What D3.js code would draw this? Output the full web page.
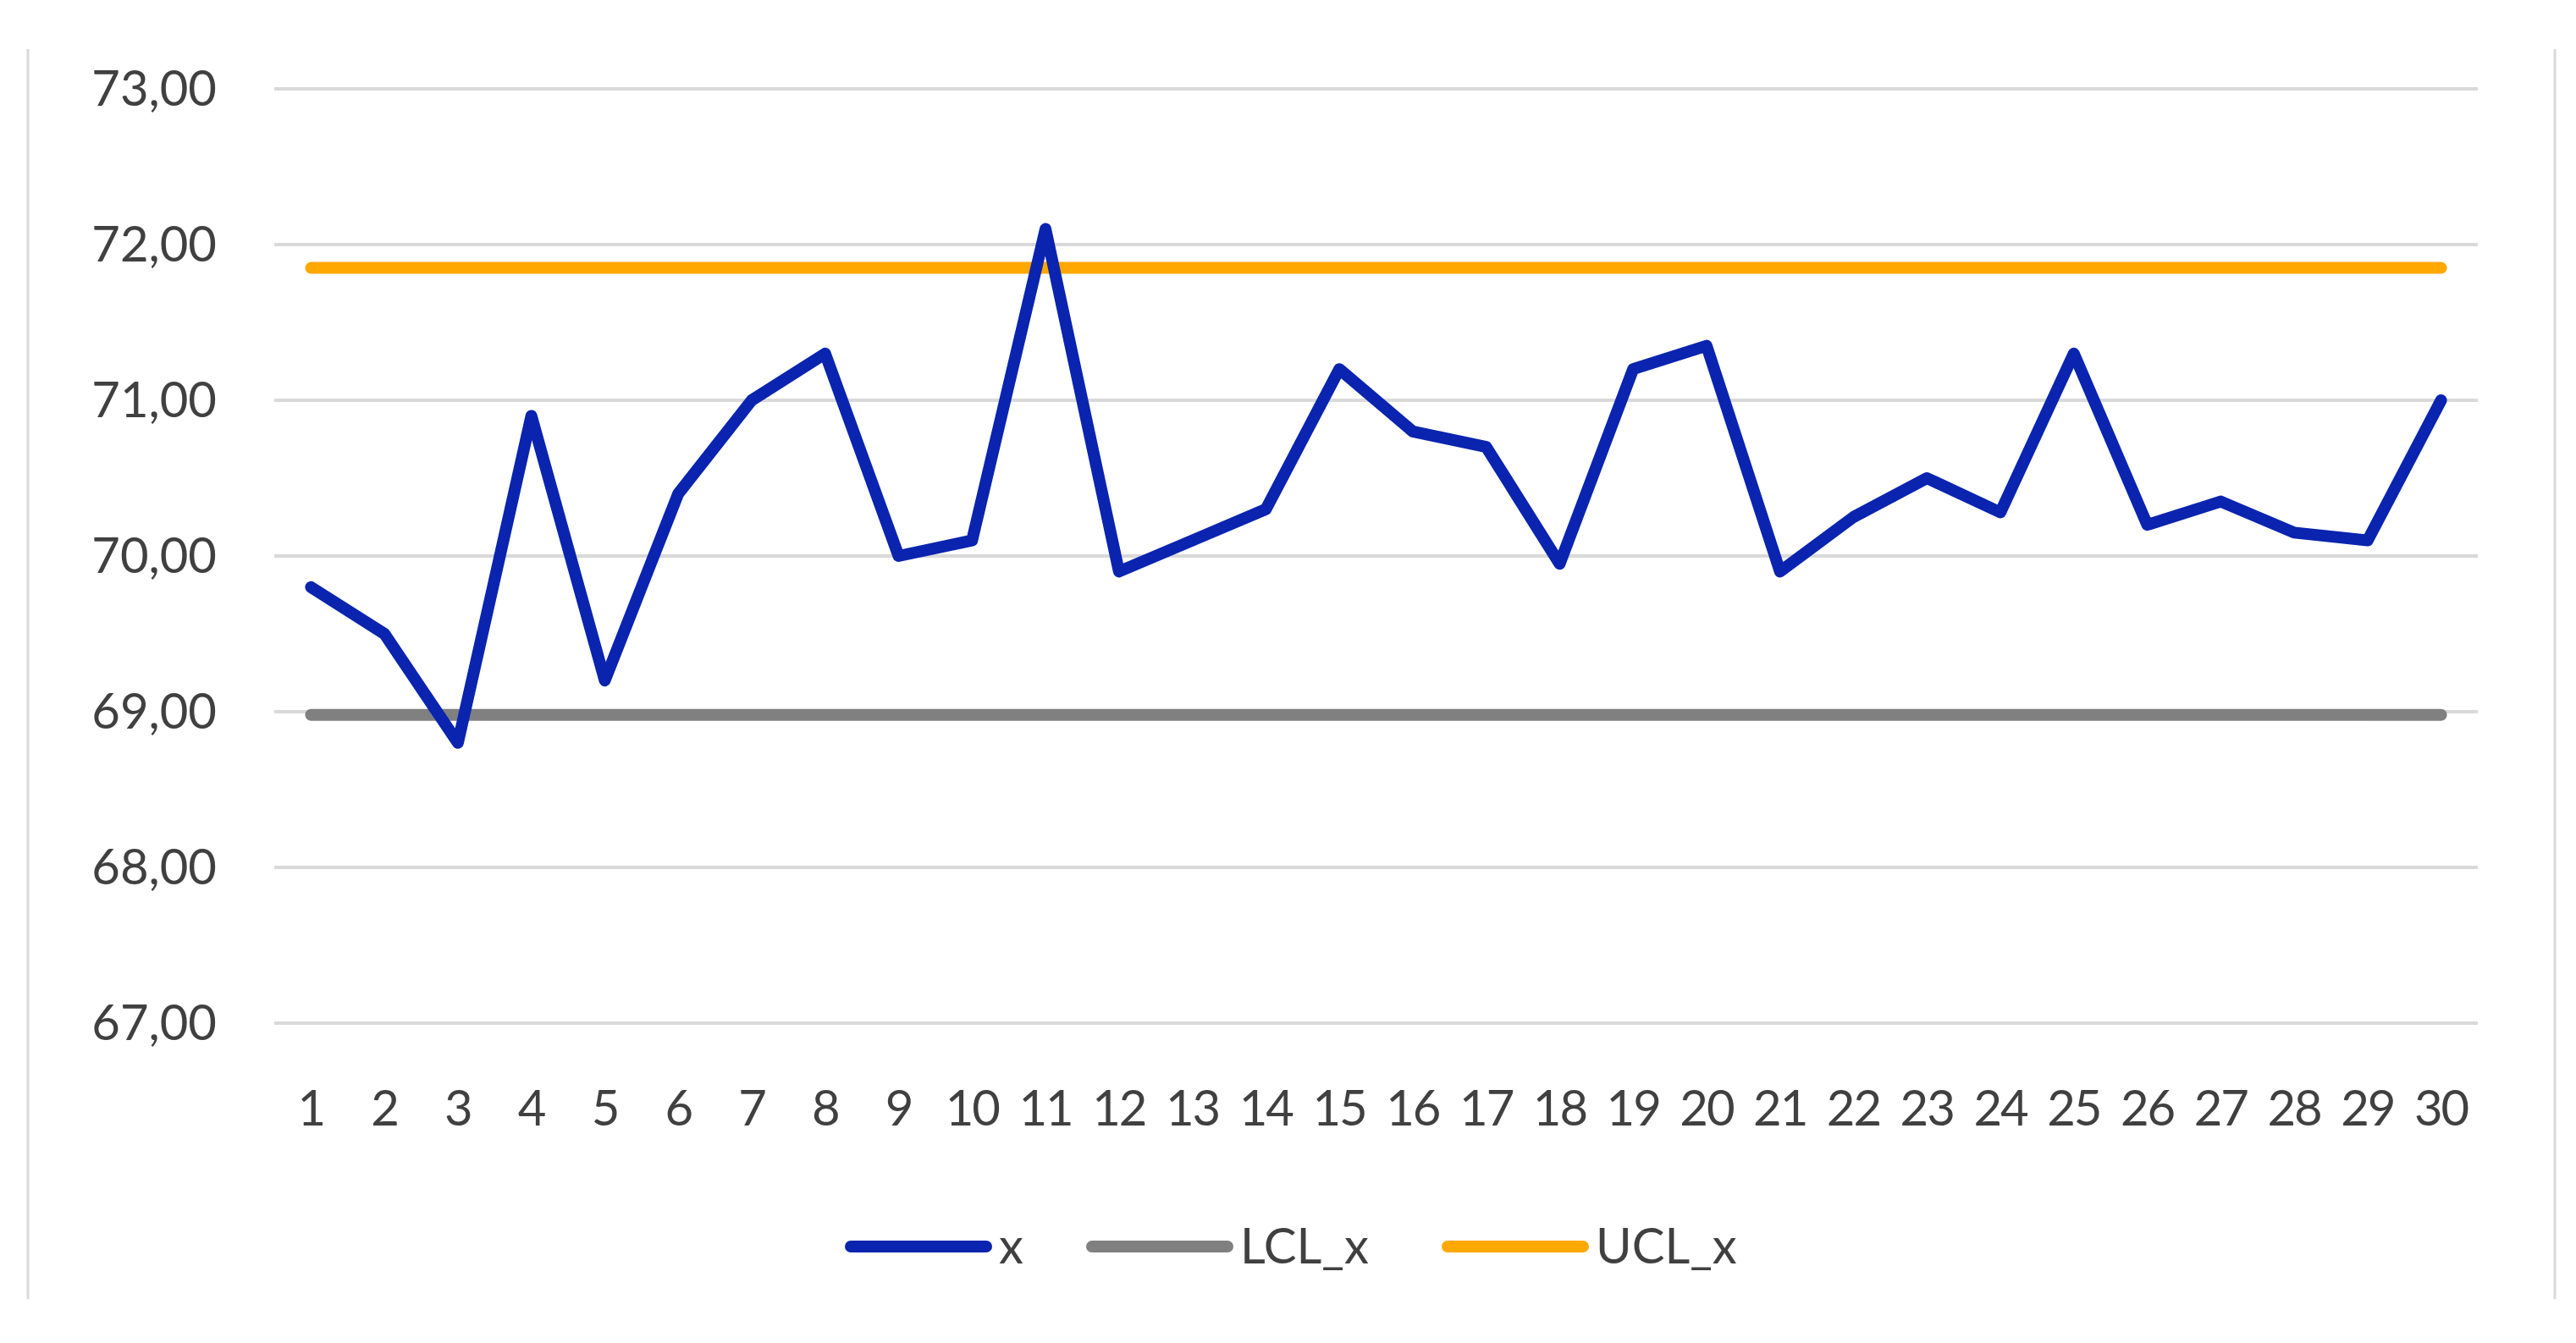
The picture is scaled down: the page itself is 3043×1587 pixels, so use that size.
<!DOCTYPE html>
<html><head><meta charset="utf-8">
<script src="https://cdn.jsdelivr.net/npm/d3@7"></script>
<style>body{margin:0;background:#fff}svg{display:block}text{font-family:Lato,"Open Sans",sans-serif;fill:#404040}</style>
</head><body><div id="chart"></div>
<script>
// data
var samples = d3.range(1, 31);
var xValues = [69.8, 69.5, 68.8, 70.9, 69.2, 70.4, 71.0, 71.3, 70.0, 70.1,
               72.1, 69.9, 70.1, 70.3, 71.2, 70.8, 70.7, 69.95, 71.2, 71.35,
               69.9, 70.25, 70.5, 70.28, 71.3, 70.2, 70.35, 70.15, 70.1, 71.0];
var lclValue = 68.98;
var uclValue = 71.85;
var yTicks = [67, 68, 69, 70, 71, 72, 73];
var seriesNames = ["x", "LCL_x", "UCL_x"];
var seriesColors = ["#0a24b0", "#808080", "#ffa800"];

var W = 3043, H = 1587;
var margin = {top: 105, right: 116, bottom: 378, left: 324};
var width = W - margin.left - margin.right, height = H - margin.top - margin.bottom;

var svg = d3.select("#chart").append("svg").attr("width", W).attr("height", H);

// frame lines at edges
svg.append("line").attr("x1", 33).attr("x2", 33).attr("y1", 58).attr("y2", 1535).attr("stroke", "#d9d9d9").attr("stroke-width", 3);
svg.append("line").attr("x1", 3018).attr("x2", 3018).attr("y1", 58).attr("y2", 1535).attr("stroke", "#d9d9d9").attr("stroke-width", 3);

var g = svg.append("g").attr("transform", "translate(" + margin.left + "," + margin.top + ")");

var xScale = d3.scalePoint().domain(samples).range([0, width]).padding(0.5);
var yScale = d3.scaleLinear().domain([67, 73]).range([height, 0]);

// grid
g.selectAll(".grid").data(yTicks).enter().append("line")
  .attr("x1", 0).attr("x2", width)
  .attr("y1", function(d) { return yScale(d); }).attr("y2", function(d) { return yScale(d); })
  .attr("stroke", "#d9d9d9").attr("stroke-width", 4);

// y labels
g.selectAll(".ylab").data(yTicks).enter().append("text")
  .attr("x", -68).attr("y", function(d) { return yScale(d); }).attr("dy", "0.35em")
  .attr("text-anchor", "end").attr("font-size", 58)
  .text(function(d) { return d.toFixed(2).replace(".", ","); });

// x labels
g.selectAll(".xlab").data(samples).enter().append("text")
  .attr("x", function(d) { return xScale(d); }).attr("y", height + 101).attr("dy", "0.35em")
  .attr("text-anchor", "middle").attr("font-size", 58).attr("letter-spacing", -2)
  .text(function(d) { return d; });

var line = d3.line().x(function(d) { return xScale(d[0]); }).y(function(d) { return yScale(d[1]); });
var lclData = samples.map(function(s) { return [s, lclValue]; });
var uclData = samples.map(function(s) { return [s, uclValue]; });
var xData = samples.map(function(s, i) { return [s, xValues[i]]; });

[lclData, uclData, xData].forEach(function(d, i) {
  var c = [seriesColors[1], seriesColors[2], seriesColors[0]][i];
  g.append("path").datum(d).attr("d", line).attr("fill", "none")
    .attr("stroke", c).attr("stroke-width", 14).attr("stroke-linejoin", "round").attr("stroke-linecap", "round");
});

// legend
var legendX = [1005, 1290, 1710];
var legendTextW = [35, 170, 190];
var leg = svg.append("g").attr("transform", "translate(0,1473)");
seriesNames.forEach(function(n, i) {
  leg.append("line").attr("x1", legendX[i]).attr("x2", legendX[i] + 160).attr("y1", 0).attr("y2", 0)
    .attr("stroke", seriesColors[i]).attr("stroke-width", 14).attr("stroke-linecap", "round");
  leg.append("text").attr("x", legendX[i] + 175).attr("y", 0).attr("dy", "0.35em")
    .attr("font-size", 58).text(n);
});
</script></body></html>
